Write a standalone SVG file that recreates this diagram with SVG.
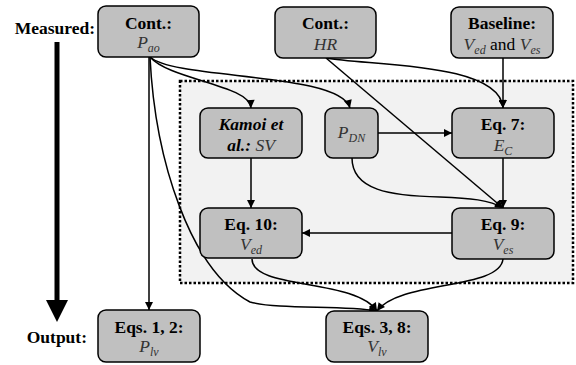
<svg xmlns="http://www.w3.org/2000/svg" width="576" height="365" viewBox="0 0 576 365" font-family="'Liberation Serif', 'Times New Roman', serif">
<defs>
<marker id="ah" viewBox="0 0 10 10" refX="10" refY="5" markerWidth="9" markerHeight="8" markerUnits="userSpaceOnUse" orient="auto">
<path d="M0,0 L10,5 L0,10 z" fill="#000"/>
</marker>
<style>
.node rect{fill:#c0c0c0;stroke:#000;stroke-width:1.5}
text{font-size:17.5px;text-anchor:middle;fill:#000}
.b{font-weight:bold}
.v{font-style:italic;fill:#333}
.s{font-size:12px}
.lbl{text-anchor:end;font-weight:bold}
.edges path{fill:none;stroke:#000;stroke-width:1.5;marker-end:url(#ah)}
</style>
</defs>
<rect x="180" y="81" width="393" height="202" fill="#f2f2f2" stroke="#000" stroke-width="2.5" stroke-dasharray="2.5,2"/>
<g id="labels">
<text class="lbl" x="95" y="34">Measured:</text>
<text class="lbl" x="87" y="343">Output:</text>
<line x1="57" y1="42" x2="57" y2="302" stroke="#000" stroke-width="5"/>
<polygon points="46,300 68,300 57,322" fill="#000"/>
</g>
<g class="edges" id="connectors">
<path d="M149,57 V310"/>
<path d="M150,57 C170,80 250,85 251,108"/>
<path d="M150,57 C175,80 340,72 350,108"/>
<path d="M150,57 C155,160 190,270 250,302 C280,310 340,305 377,311"/>
<path d="M251,158 V208"/>
<path d="M378,133 H452"/>
<path d="M352,158 C352,190 390,196 440,197 C470,198 490,200 503,208"/>
<path d="M326,58 L503,208"/>
<path d="M326,58 C370,66 500,62 503,108"/>
<path d="M503,58 V108"/>
<path d="M503,158 V208"/>
<path d="M452,233 H302"/>
<path d="M252,259 C252,290 355,278 377,311"/>
<path d="M503,259 C500,290 400,280 377,311"/>
</g>
<g class="node" id="n_pao">
<rect x="98" y="6" width="101" height="51" rx="8"/>
<text class="b" x="148.5" y="29">Cont.:</text>
<text x="148.5" y="48"><tspan class="v">P</tspan><tspan class="v s" dy="4">ao</tspan></text>
</g>
<g class="node" id="n_hr">
<rect x="275" y="7" width="101" height="51" rx="8"/>
<text class="b" x="325.5" y="29">Cont.:</text>
<text class="v" x="325.5" y="50">HR</text>
</g>
<g class="node" id="n_base">
<rect x="451" y="7" width="102" height="51" rx="8"/>
<text class="b" x="502" y="29">Baseline:</text>
<text x="502" y="50"><tspan class="v">V</tspan><tspan class="v s" dy="4">ed</tspan><tspan dy="-4"> and </tspan><tspan class="v">V</tspan><tspan class="v s" dy="4">es</tspan></text>
</g>
<g class="node" id="n_kamoi">
<rect x="200" y="108" width="102" height="50" rx="8"/>
<text class="b" x="251" y="130" font-style="italic">Kamoi et</text>
<text x="251" y="151"><tspan class="b" font-style="italic">al.:</tspan><tspan class="v"> SV</tspan></text>
</g>
<g class="node" id="n_pdn">
<rect x="325" y="108" width="53" height="50" rx="8"/>
<text x="351.5" y="138"><tspan class="v">P</tspan><tspan class="v s" dy="4">DN</tspan></text>
</g>
<g class="node" id="n_eq7">
<rect x="452" y="108" width="102" height="50" rx="8"/>
<text class="b" x="503" y="130">Eq. 7:</text>
<text x="503" y="151"><tspan class="v">E</tspan><tspan class="v s" dy="4">C</tspan></text>
</g>
<g class="node" id="n_eq10">
<rect x="200" y="208" width="102" height="50" rx="8"/>
<text class="b" x="251" y="230">Eq. 10:</text>
<text x="251" y="250"><tspan class="v">V</tspan><tspan class="v s" dy="4">ed</tspan></text>
</g>
<g class="node" id="n_eq9">
<rect x="452" y="208" width="102" height="51" rx="8"/>
<text class="b" x="503" y="230">Eq. 9:</text>
<text x="503" y="250"><tspan class="v">V</tspan><tspan class="v s" dy="4">es</tspan></text>
</g>
<g class="node" id="n_eq12">
<rect x="98" y="310" width="102" height="52" rx="8"/>
<text class="b" x="149" y="333">Eqs. 1, 2:</text>
<text x="149" y="352"><tspan class="v">P</tspan><tspan class="v s" dy="4">lv</tspan></text>
</g>
<g class="node" id="n_eq38">
<rect x="326" y="311" width="102" height="51" rx="8"/>
<text class="b" x="377" y="333">Eqs. 3, 8:</text>
<text x="377" y="352"><tspan class="v">V</tspan><tspan class="v s" dy="4">lv</tspan></text>
</g>
</svg>
